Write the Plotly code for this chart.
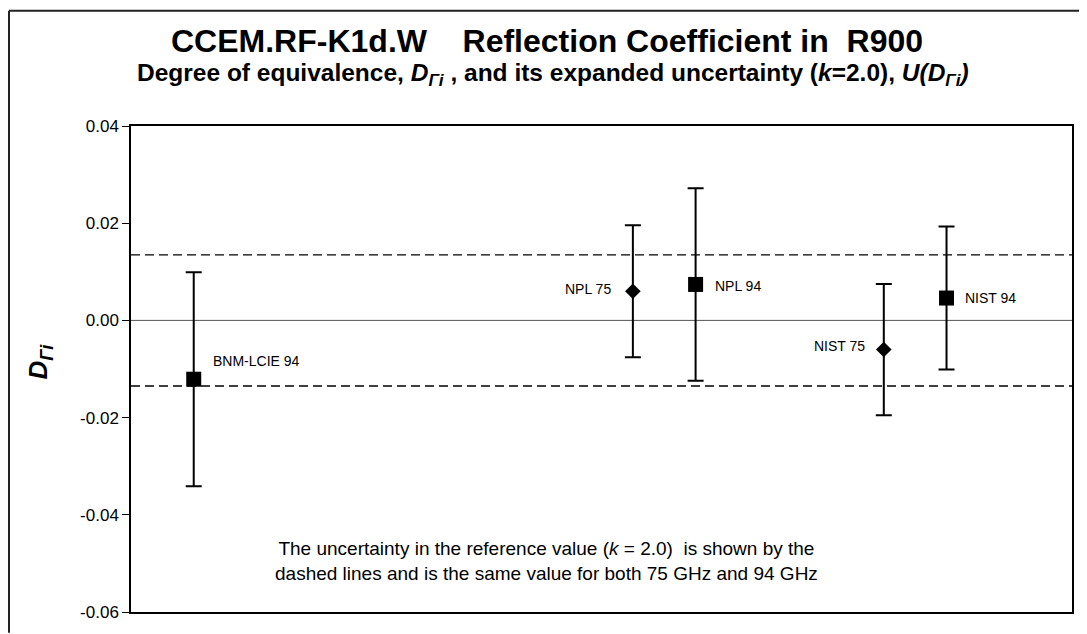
import plotly.graph_objects as go

# ---- data ----
labels = ["BNM-LCIE 94", "NPL 75", "NPL 94", "NIST 75", "NIST 94"]
x_pos = [1, 8, 9, 12, 13]
d_values = [-0.0121, 0.0060, 0.0074, -0.0060, 0.0046]
u_values = [0.0220, 0.0136, 0.0198, 0.0135, 0.0147]
freq = [94, 75, 94, 75, 94]
ref_unc = 0.0135
y_ticks = [0.04, 0.02, 0.00, -0.02, -0.04, -0.06]
y_tick_text = ["0.04", "0.02", "0.00", "-0.02", "-0.04", "-0.06"]

# page body has an 8px margin; screen coords of the plot box
OFF = 8
W, H = 1087 - OFF, 634 - OFF
L, R, T, B = 131, 1072, 126, 619

def px(xp):
    return (xp - L) / (R - L)

def py(yp):
    return (B - yp) / (B - T)

fig = go.Figure()

for sym, f in [("square", 94), ("diamond", 75)]:
    idx = [i for i in range(len(freq)) if freq[i] == f]
    fig.add_trace(go.Scatter(
        x=[x_pos[i] for i in idx],
        y=[d_values[i] for i in idx],
        mode="markers",
        marker=dict(symbol=sym, size=15 if sym == "square" else 12, color="black",
                    line=dict(width=0)),
        error_y=dict(type="data", array=[u_values[i] for i in idx], symmetric=True,
                     color="black", thickness=2, width=8),
        showlegend=False,
        hoverinfo="skip",
    ))

# reference uncertainty dashed lines and zero line
for yv in [ref_unc, -ref_unc]:
    fig.add_shape(type="line", xref="paper", yref="y", x0=0, x1=1, y0=yv, y1=yv,
                  line=dict(color="black", width=1.3, dash="9px,5px"), layer="below")
fig.add_shape(type="line", xref="paper", yref="y", x0=0, x1=1, y0=0, y1=0,
              line=dict(color="#555555", width=1), layer="below")

# point labels
offsets = {
    "BNM-LCIE 94": ("left", 17, 18),
    "NPL 75": ("right", -20, 2),
    "NPL 94": ("left", 17, -2),
    "NIST 75": ("right", -17, 4),
    "NIST 94": ("left", 16, 0),
}
for lab, xv, yv in zip(labels, x_pos, d_values):
    anc, xs, ys = offsets[lab]
    fig.add_annotation(x=xv, y=yv, xref="x", yref="y", text=lab, showarrow=False,
                       xanchor=anc, yanchor="middle", xshift=xs, yshift=ys,
                       font=dict(family="Liberation Sans, Arial", size=14, color="black"))

# outer chart border (top and left)
fig.add_shape(type="line", xref="paper", yref="paper", x0=px(9), x1=px(1095), y0=py(9), y1=py(9),
              line=dict(color="#222222", width=2))
fig.add_shape(type="line", xref="paper", yref="paper", x0=px(9), x1=px(9), y0=py(9), y1=py(640),
              line=dict(color="#222222", width=2))

# titles
NB = "\u00a0"
fig.add_annotation(xref="paper", yref="paper", x=px(547), y=py(40),
                   text="<b>CCEM.RF-K1d.W" + NB * 4 + "Reflection Coefficient in" + NB * 2 + "R900</b>",
                   showarrow=False, xanchor="center", yanchor="middle",
                   font=dict(family="Liberation Sans, Arial", size=32, color="black"))
fig.add_annotation(xref="paper", yref="paper", x=px(553), y=py(74),
                   text="<b>Degree of equivalence, <i>D</i><sub><i>Γi</i></sub> , and its expanded uncertainty (<i>k</i>=2.0), <i>U(D</i><sub><i>Γi</i></sub><i>)</i></b>",
                   showarrow=False, xanchor="center", yanchor="middle",
                   font=dict(family="Liberation Sans, Arial", size=24.5, color="black"))

# y-axis title
fig.add_annotation(xref="paper", yref="paper", x=px(40), y=py(365),
                   text="<b><i>D</i></b><sub><b><i>Γi</i></b></sub>", textangle=-90,
                   showarrow=False, xanchor="center", yanchor="middle",
                   font=dict(family="Liberation Sans, Arial", size=26, color="black"))

# note
fig.add_annotation(xref="paper", yref="paper", x=px(546), y=py(567),
                   text="The uncertainty in the reference value (<i>k</i> = 2.0)" + NB * 2 + "is shown by the<br>dashed lines and is the same value for both 75 GHz and 94 GHz",
                   showarrow=False, xanchor="center", yanchor="middle", align="center",
                   font=dict(family="Liberation Sans, Arial", size=19, color="black"))

fig.update_layout(
    width=W, height=H,
    margin=dict(l=L - OFF, r=W - (R - OFF), t=T - OFF, b=H - (B - OFF), pad=0),
    paper_bgcolor="white", plot_bgcolor="white",
    showlegend=False,
    xaxis=dict(range=[0, 15], showgrid=False, zeroline=False, showticklabels=False,
               ticks="", showline=True, linecolor="black", linewidth=1.5, mirror=True),
    yaxis=dict(range=[-0.06, 0.04], tickvals=y_ticks, ticktext=y_tick_text,
               showgrid=False, zeroline=False, ticks="outside", ticklen=7,
               tickcolor="black", tickwidth=1, showline=True, linecolor="black",
               linewidth=1.5, mirror=True,
               tickfont=dict(family="Liberation Sans, Arial", size=17, color="black")),
)

fig.write_html("out.html")
